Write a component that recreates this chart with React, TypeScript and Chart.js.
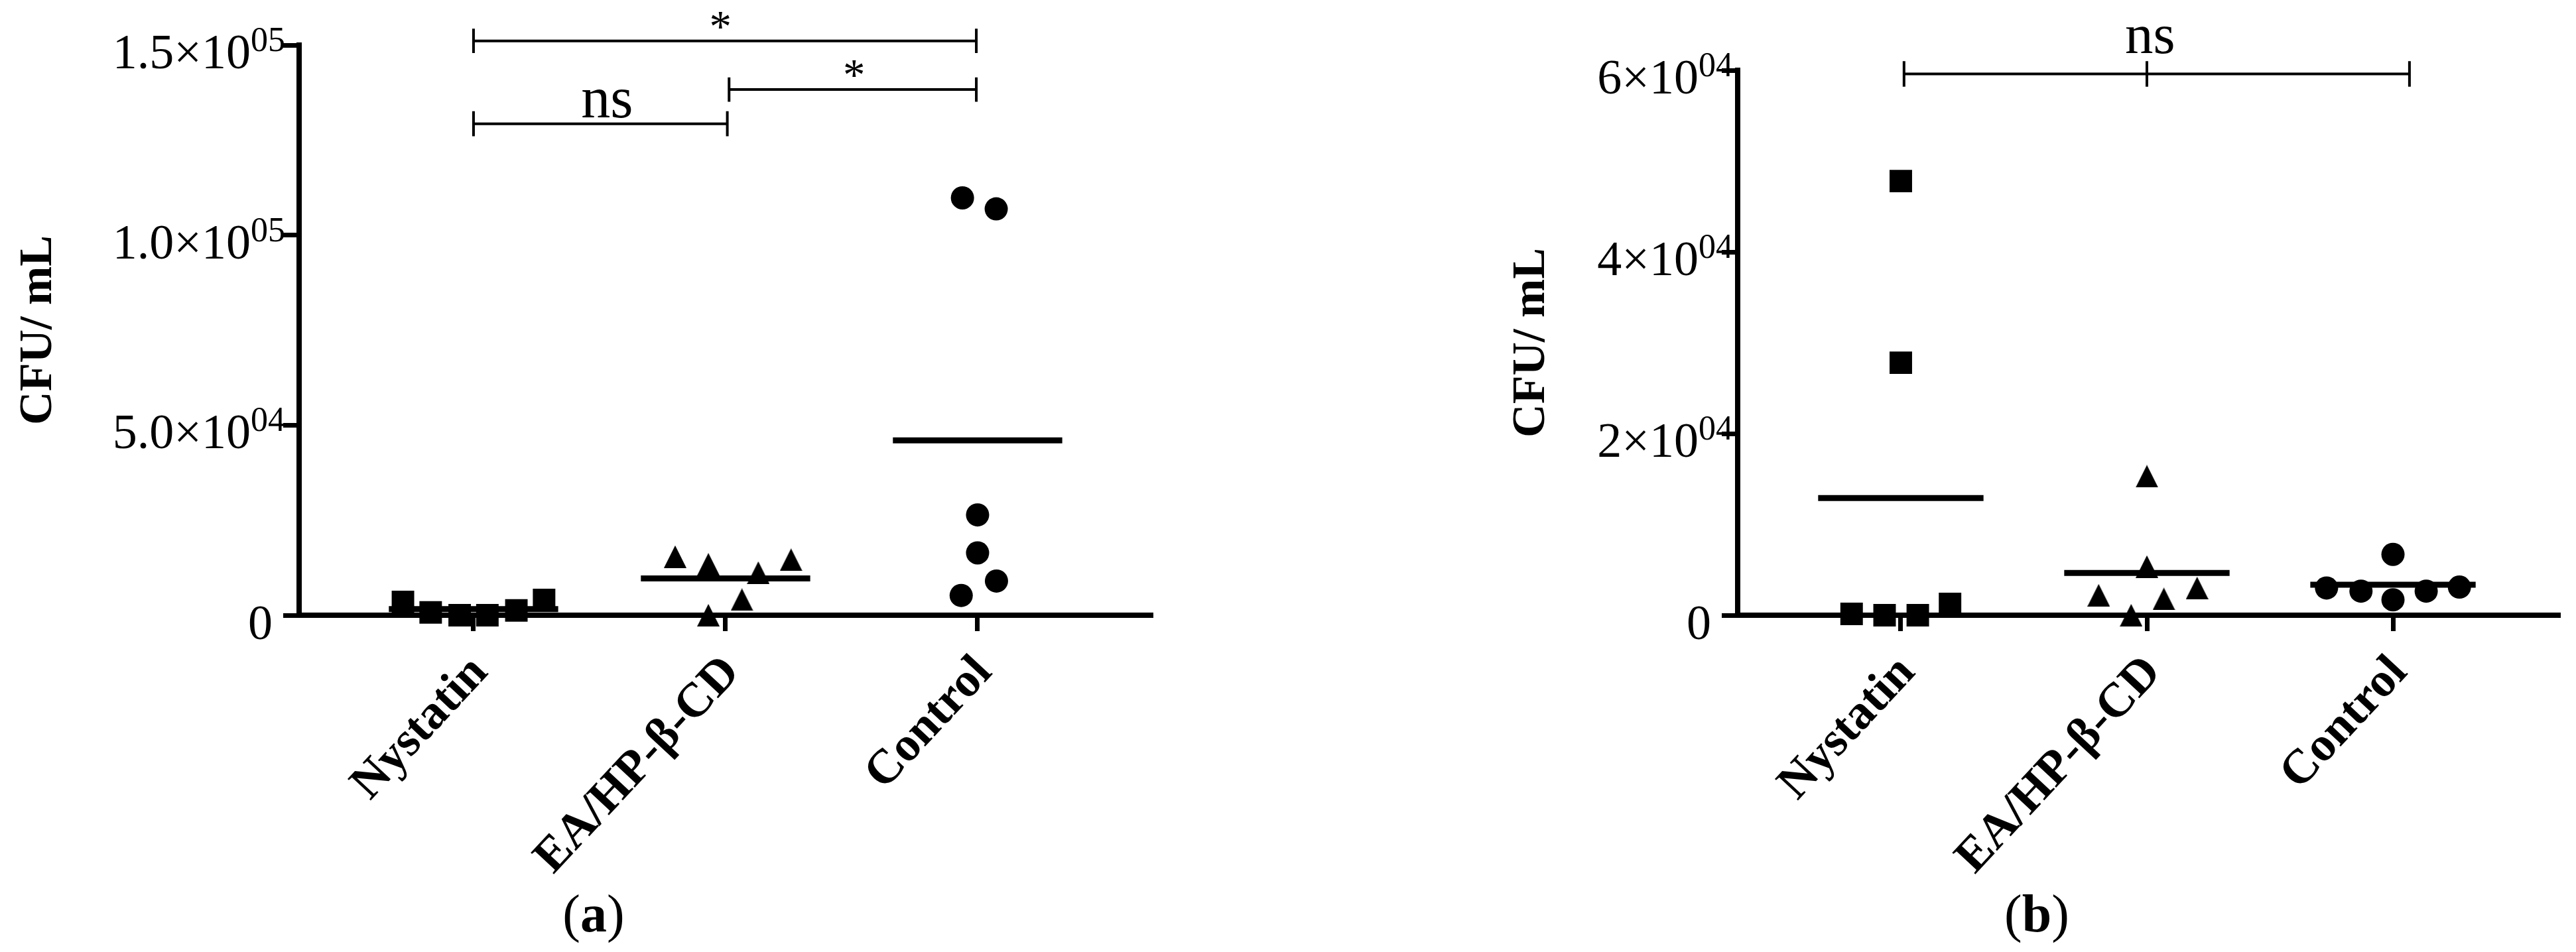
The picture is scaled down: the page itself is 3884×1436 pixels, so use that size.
import React, { useEffect, useRef } from "react";
import { Chart, registerables } from "chart.js";

Chart.register(...registerables);

// ---------- data ----------
const categories = ["Nystatin", "EA/HP-β-CD", "Control"];

// Panel (a)
const nystatinA = [3500, 750, 0, 0, 1250, 4000];
const eaA = [15400, 13400, 11200, 14600, 0, 4100];
const controlA = [109800, 106900, 26400, 16400, 9000, 5200];
const meanA = [1600, 9700, 46000];
const nystatinJitterA = [-0.28, -0.17, -0.055, 0.055, 0.17, 0.28];
const eaJitterA = [-0.2, -0.068, 0.13, 0.26, -0.068, 0.065];
const controlJitterA = [-0.06, 0.074, 0, 0, 0.075, -0.065];
const yTickValuesA = [0, 50000, 100000, 150000];
const yTickMantissaA = ["0", "5.0×10", "1.0×10", "1.5×10"];
const yTickExponentA = ["", "04", "05", "05"];
const bracketsA = [
  { from: 0.0, mid: null, to: 1.995, y: 151100, cap: 3200, label: "*", labelX: 0.98, labelY: 151100 },
  { from: 1.014, mid: null, to: 1.995, y: 138300, cap: 3200, label: "*", labelX: 1.51, labelY: 138300 },
  { from: 0.0, mid: null, to: 1.007, y: 129300, cap: 3300, label: "ns", labelX: 0.53, labelY: 131000 },
];

// Panel (b)
const nystatinB = [47800, 27800, 150, 0, 0, 1250];
const eaB = [15300, 5350, 2200, 1800, 3000, 0];
const controlB = [6700, 3000, 2650, 1700, 2650, 3100];
const meanB = [12900, 4650, 3350];
const nystatinJitterB = [0, 0, -0.2, -0.066, 0.069, 0.2];
const eaJitterB = [0, 0, -0.196, 0.069, 0.204, -0.064];
const controlJitterB = [0, -0.27, -0.13, 0, 0.135, 0.27];
const yTickValuesB = [0, 20000, 40000, 60000];
const yTickMantissaB = ["0", "2×10", "4×10", "6×10"];
const yTickExponentB = ["", "04", "04", "04"];
const bracketsB = [
  { from: 0.013, mid: 1.0, to: 2.067, y: 59600, cap: 1400, label: "ns", labelX: 1.013, labelY: 61900 },
];

const yTitle = "CFU/ mL";

// ---------- helpers ----------
const SERIF = '"Liberation Serif", "Times New Roman", serif';

function makeTriangle(w: number, h: number) {
  const c = document.createElement("canvas");
  c.width = w;
  c.height = h;
  const ctx = c.getContext("2d")!;
  ctx.fillStyle = "#000";
  ctx.beginPath();
  ctx.moveTo(w / 2, 0);
  ctx.lineTo(w, h);
  ctx.lineTo(0, h);
  ctx.closePath();
  ctx.fill();
  return c;
}

type PanelProps = {
  groups: number[][];
  jitters: number[][];
  means: number[];
  yMax: number;
  yTickValues: number[];
  yTickMantissa: string[];
  yTickExponent: string[];
  brackets: any[];
  caption: string;
  captionX: number;
  xMin: number;
  xMax: number;
  padLeft: number;
  padRight: number;
  padTop: number;
  labelGap: number;
  titleX: number;
  nsSize: number;
};

const W = 1942;
const H = 1436;

function Panel(p: PanelProps) {
  const ref = useRef<HTMLCanvasElement | null>(null);
  useEffect(() => {
    if (!ref.current) return;
    const tri = makeTriangle(34, 34);
    const styles: any[] = ["rect", tri, "circle"];
    const radii = [24, 17, 17.5];
    const datasets: any[] = [];
    p.groups.forEach((vals, i) => {
      datasets.push({
        type: "scatter",
        data: vals.map((v, k) => ({ x: i + p.jitters[i][k], y: v })),
        pointStyle: styles[i],
        pointRadius: radii[i],
        pointBackgroundColor: "#000",
        pointBorderWidth: 0,
        backgroundColor: "#000",
        borderColor: "#000",
        showLine: false,
        clip: false,
      });
    });
    p.means.forEach((m, i) => {
      datasets.push({
        type: "line",
        data: [
          { x: i - 0.336, y: m },
          { x: i + 0.336, y: m },
        ],
        borderColor: "#000",
        borderWidth: 9,
        borderCapStyle: "butt",
        pointRadius: 0,
        showLine: true,
        clip: false,
      });
    });

    const overlay = {
      id: "overlay" + p.caption,
      afterDraw(chart: any) {
        const { ctx, chartArea } = chart;
        const xs = chart.scales.x;
        const ys = chart.scales.y;
        ctx.save();
        ctx.fillStyle = "#000";
        ctx.strokeStyle = "#000";
        // y tick labels with superscript exponents
        ctx.textBaseline = "alphabetic";
        ctx.textAlign = "right";
        p.yTickValues.forEach((v, i) => {
          const py = ys.getPixelForValue(v);
          const mant = p.yTickMantissa[i];
          const exp = p.yTickExponent[i];
          if (exp) {
            ctx.font = `52px ${SERIF}`;
            const ew = ctx.measureText(exp).width;
            const right = chartArea.left - p.labelGap;
            ctx.fillText(exp, right, py + 9);
            ctx.font = `74px ${SERIF}`;
            ctx.fillText(mant, right - ew, py + 35);
          } else {
            ctx.font = `74px ${SERIF}`;
            ctx.fillText(mant, chartArea.left - 40, py + 36);
          }
        });
        // y axis title
        ctx.save();
        ctx.translate(p.titleX, (chartArea.top + chartArea.bottom) / 2);
        ctx.rotate(-Math.PI / 2);
        ctx.font = `bold 70px ${SERIF}`;
        ctx.textAlign = "center";
        ctx.textBaseline = "middle";
        ctx.fillText(yTitle, 0, 0);
        ctx.restore();
        // significance brackets
        ctx.lineWidth = 4;
        ctx.lineCap = "butt";
        p.brackets.forEach((b) => {
          const x1 = xs.getPixelForValue(b.from);
          const x2 = xs.getPixelForValue(b.to);
          const yy = ys.getPixelForValue(b.y);
          const yTop = ys.getPixelForValue(b.y + b.cap);
          const yBot = ys.getPixelForValue(b.y - b.cap);
          ctx.beginPath();
          ctx.moveTo(x1, yy);
          ctx.lineTo(x2, yy);
          const caps = [x1, x2];
          if (b.mid !== null) caps.push(xs.getPixelForValue(b.mid));
          caps.forEach((cx) => {
            ctx.moveTo(cx, yTop);
            ctx.lineTo(cx, yBot);
          });
          ctx.stroke();
          ctx.textAlign = "center";
          ctx.textBaseline = "alphabetic";
          ctx.font = b.label === "*" ? `67px ${SERIF}` : `${p.nsSize}px ${SERIF}`;
          ctx.fillText(b.label, xs.getPixelForValue(b.labelX), ys.getPixelForValue(b.labelY));
        });
        // caption "(a)" with bold letter
        const parts = [
          { t: "(", f: `80px ${SERIF}` },
          { t: p.caption, f: `bold 80px ${SERIF}` },
          { t: ")", f: `80px ${SERIF}` },
        ];
        let total = 0;
        const widths = parts.map((pt) => {
          ctx.font = pt.f;
          const w = ctx.measureText(pt.t).width;
          total += w;
          return w;
        });
        let cx = p.captionX - total / 2;
        ctx.textAlign = "left";
        parts.forEach((pt, i) => {
          ctx.font = pt.f;
          ctx.fillText(pt.t, cx, 1405);
          cx += widths[i];
        });
        ctx.restore();
      },
    };

    const axisGrid = {
      drawOnChartArea: false,
      drawTicks: true,
      tickLength: 24,
      tickWidth: 7,
      lineWidth: 7,
      color: "#000",
      tickColor: "#000",
    };
    const axisBorder = { display: true, color: "#000", width: 8 };

    const chart = new Chart(ref.current, {
      type: "scatter",
      data: { datasets },
      options: {
        animation: false,
        responsive: false,
        events: [],
        layout: { padding: { left: p.padLeft, right: p.padRight, top: p.padTop, bottom: 0 } },
        plugins: { legend: { display: false }, tooltip: { enabled: false } },
        scales: {
          x: {
            type: "linear",
            min: p.xMin,
            max: p.xMax,
            afterBuildTicks: (s: any) => {
              s.ticks = categories.map((_, i) => ({ value: i }));
            },
            afterFit: (s: any) => {
              s.height = H - 928;
            },
            grid: axisGrid,
            border: axisBorder,
            ticks: {
              autoSkip: false,
              minRotation: 47,
              maxRotation: 47,
              padding: 21,
              labelOffset: 10,
              color: "#000",
              font: { family: SERIF, size: 73, weight: "bold" },
              callback: (v: any) => categories[Math.round(Number(v))] ?? "",
            },
          },
          y: {
            type: "linear",
            min: 0,
            max: p.yMax,
            afterBuildTicks: (s: any) => {
              s.ticks = p.yTickValues.map((v) => ({ value: v }));
            },
            afterFit: (s: any) => {
              s.width = 24;
            },
            grid: axisGrid,
            border: axisBorder,
            ticks: { display: false },
          },
        },
      } as any,
      plugins: [overlay],
    });
    return () => chart.destroy();
  }, []);
  return <canvas ref={ref} width={W} height={H} style={{ width: W, height: H, display: "block" }} />;
}

export default function App() {
  return (
    <div style={{ position: "fixed", left: 0, top: 0, width: 3884, height: 1436, background: "#fff", display: "flex" }}>
      <Panel
        groups={[nystatinA, eaA, controlA]}
        jitters={[nystatinJitterA, eaJitterA, controlJitterA]}
        means={meanA}
        yMax={150000}
        yTickValues={yTickValuesA}
        yTickMantissa={yTickMantissaA}
        yTickExponent={yTickExponentA}
        brackets={bracketsA}
        caption="a"
        captionX={895}
        xMin={-0.692}
        xMax={2.687}
        padLeft={427}
        padRight={207}
        padTop={68}
        labelGap={21}
        titleX={59}
        nsSize={88}
      />
      <Panel
        groups={[nystatinB, eaB, controlB]}
        jitters={[nystatinJitterB, eaJitterB, controlJitterB]}
        means={meanB}
        yMax={60000}
        yTickValues={yTickValuesB}
        yTickMantissa={yTickMantissaB}
        yTickExponent={yTickExponentB}
        brackets={bracketsB}
        caption="b"
        captionX={1129}
        xMin={-0.663}
        xMax={2.671}
        padLeft={654}
        padRight={27}
        padTop={106}
        labelGap={7}
        titleX={368}
        nsSize={85}
      />
    </div>
  );
}
